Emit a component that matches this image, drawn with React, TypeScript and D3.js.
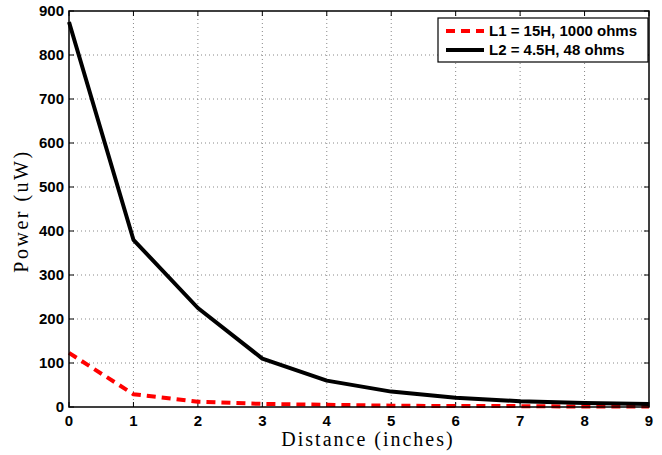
import React, { useEffect, useRef } from 'react';
import * as d3 from 'd3';

// distances in inches
const distances = [0, 1, 2, 3, 4, 5, 6, 7, 8, 9];
// power (uW) for each coil
const powerL1 = [123, 29, 12, 7, 5, 3, 2, 2, 1, 1];
const powerL2 = [875, 380, 225, 110, 60, 35, 21, 13, 9, 7];
const xTicks = [0, 1, 2, 3, 4, 5, 6, 7, 8, 9];
const yTicks = [0, 100, 200, 300, 400, 500, 600, 700, 800, 900];
const seriesNames = ['L1 = 15H, 1000 ohms', 'L2 = 4.5H, 48 ohms'];

const W = 662;
const H = 455;
const margin = { top: 11, right: 13, bottom: 48, left: 69 };

const App = () => {
  const svgRef = useRef<SVGSVGElement>(null);

  useEffect(() => {
    const svg = d3.select(svgRef.current);
    svg.selectAll('*').remove();

    const iw = W - margin.left - margin.right;
    const ih = H - margin.top - margin.bottom;

    const x = d3.scaleLinear().domain([0, 9]).range([0, iw]);
    const y = d3.scaleLinear().domain([0, 900]).range([ih, 0]);

    svg.append('rect').attr('width', W).attr('height', H).attr('fill', 'white');

    const g = svg.append('g').attr('transform', `translate(${margin.left},${margin.top})`);

    // dotted grid
    g.selectAll('.vgrid')
      .data(xTicks.slice(1, -1))
      .enter()
      .append('line')
      .attr('x1', d => x(d)).attr('x2', d => x(d))
      .attr('y1', 0).attr('y2', ih)
      .attr('stroke', '#888').attr('stroke-width', 1)
      .attr('stroke-dasharray', '1,3');
    g.selectAll('.hgrid')
      .data(yTicks.slice(1, -1))
      .enter()
      .append('line')
      .attr('y1', d => y(d)).attr('y2', d => y(d))
      .attr('x1', 0).attr('x2', iw)
      .attr('stroke', '#888').attr('stroke-width', 1)
      .attr('stroke-dasharray', '1,3');

    // inward ticks on all four sides
    const tl = 5;
    xTicks.forEach(t => {
      g.append('line').attr('x1', x(t)).attr('x2', x(t)).attr('y1', ih).attr('y2', ih - tl).attr('stroke', '#000');
      g.append('line').attr('x1', x(t)).attr('x2', x(t)).attr('y1', 0).attr('y2', tl).attr('stroke', '#000');
    });
    yTicks.forEach(t => {
      g.append('line').attr('y1', y(t)).attr('y2', y(t)).attr('x1', 0).attr('x2', tl).attr('stroke', '#000');
      g.append('line').attr('y1', y(t)).attr('y2', y(t)).attr('x1', iw).attr('x2', iw - tl).attr('stroke', '#000');
    });

    // lines
    const line = d3.line<number>()
      .x((_, i) => x(distances[i]))
      .y(d => y(d));

    g.append('path')
      .datum(powerL1)
      .attr('d', line)
      .attr('fill', 'none')
      .attr('stroke', '#ff0000')
      .attr('stroke-width', 4)
      .attr('stroke-dasharray', '9,6');

    g.append('path')
      .datum(powerL2)
      .attr('d', line)
      .attr('fill', 'none')
      .attr('stroke', '#000')
      .attr('stroke-width', 4)
      .attr('stroke-linejoin', 'round');

    // frame
    g.append('rect')
      .attr('width', iw).attr('height', ih)
      .attr('fill', 'none').attr('stroke', '#000').attr('stroke-width', 1.5);

    // tick labels
    const tickFont = '"Liberation Sans", Arial, sans-serif';
    g.selectAll('.xlab')
      .data(xTicks)
      .enter()
      .append('text')
      .attr('x', d => x(d))
      .attr('y', ih + 19)
      .attr('text-anchor', 'middle')
      .attr('font-family', tickFont)
      .attr('font-weight', 'bold')
      .attr('font-size', 15)
      .text(d => d);
    g.selectAll('.ylab')
      .data(yTicks)
      .enter()
      .append('text')
      .attr('x', -5)
      .attr('y', d => y(d))
      .attr('dy', '0.35em')
      .attr('text-anchor', 'end')
      .attr('font-family', tickFont)
      .attr('font-weight', 'bold')
      .attr('font-size', 15)
      .text(d => d);

    // axis titles
    const titleFont = '"Liberation Serif", "DejaVu Serif", serif';
    svg.append('text')
      .attr('x', margin.left + iw / 2 + 9)
      .attr('y', 446)
      .attr('text-anchor', 'middle')
      .attr('font-family', titleFont)
      .attr('font-size', 20)
      .attr('letter-spacing', 2)
      .text('Distance (inches)');
    svg.append('text')
      .attr('transform', `translate(28,${margin.top + ih / 2 + 2}) rotate(-90)`)
      .attr('text-anchor', 'middle')
      .attr('font-family', titleFont)
      .attr('font-size', 20)
      .attr('letter-spacing', 2.5)
      .text('Power (uW)');

    // legend
    const lg = svg.append('g').attr('transform', 'translate(438,18)');
    lg.append('rect')
      .attr('width', 210).attr('height', 44)
      .attr('fill', 'white').attr('stroke', '#000').attr('stroke-width', 1.2);
    const styles = [
      { color: '#ff0000', dash: '9,6' },
      { color: '#000', dash: null }
    ];
    seriesNames.forEach((name, i) => {
      const cy = 13 + i * 19;
      lg.append('line')
        .attr('x1', 8).attr('x2', 46)
        .attr('y1', cy).attr('y2', cy)
        .attr('stroke', styles[i].color)
        .attr('stroke-width', 4)
        .attr('stroke-dasharray', styles[i].dash);
      lg.append('text')
        .attr('x', 51)
        .attr('y', cy)
        .attr('dy', '0.35em')
        .attr('font-family', tickFont)
        .attr('font-weight', 'bold')
        .attr('font-size', 15)
        .text(name);
    });
  }, []);

  return (
    <svg ref={svgRef} width={W} height={H} style={{ position: 'absolute', left: 0, top: 0 }} />
  );
};

export default App;
